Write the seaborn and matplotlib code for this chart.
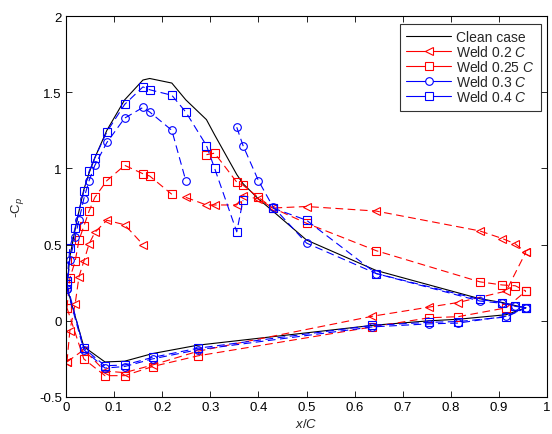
import numpy as np
import pandas as pd
import matplotlib
matplotlib.use("Agg")
import matplotlib.pyplot as plt
from matplotlib.lines import Line2D
import seaborn as sns

# ---------------- data ----------------
# upper-surface pressure ports (x/C)
x_up = [0.002, 0.008, 0.019, 0.027, 0.037, 0.048, 0.06, 0.085, 0.122, 0.16, 0.174,
        0.22, 0.249, 0.292, 0.309, 0.355, 0.368, 0.40, 0.43, 0.50, 0.645, 0.86,
        0.907, 0.934, 0.956]
# lower-surface pressure ports (x/C)
x_lo = [0.002, 0.037, 0.081, 0.122, 0.18, 0.274, 0.637, 0.755, 0.815, 0.915, 0.956]

clean_up = [0.22, 0.42, 0.60, 0.72, 0.86, 0.97, 1.07, 1.25, 1.45, 1.58, 1.59,
            1.56, 1.45, 1.32, 1.22, 0.96, 0.90, 0.80, 0.72, 0.53, 0.33, 0.145,
            0.12, 0.10, 0.085]
clean_lo = [0.22, -0.17, -0.27, -0.265, -0.215, -0.16, -0.03, 0.0, 0.01, 0.04, 0.085]

w20_up = [-0.27, -0.065, 0.11, 0.29, 0.39, 0.505, 0.58, 0.66, 0.63, 0.50, np.nan,
          np.nan, 0.81, 0.76, 0.76, 0.76, 0.82, 0.80, 0.74, 0.75, 0.72, 0.59,
          0.54, 0.505, 0.45]
w20_lo = [-0.27, -0.19, -0.33, -0.34, -0.29, -0.20, 0.03, 0.09, 0.12, 0.195, 0.45]

w25_up = [0.085, 0.28, 0.39, 0.53, 0.62, 0.72, 0.81, 0.92, 1.02, 0.965, 0.95,
          0.83, np.nan, 1.09, 1.10, 0.91, 0.89, 0.81, 0.74, 0.64, 0.46, 0.256,
          0.235, 0.23, 0.195]
w25_lo = [0.085, -0.25, -0.36, -0.36, -0.30, -0.23, -0.04, 0.02, 0.027, 0.085, 0.195]

w30_up = [0.21, 0.40, 0.55, 0.66, 0.80, 0.92, 1.02, 1.17, 1.33, 1.40, 1.37,
          1.25, 0.92, np.nan, np.nan, 1.27, 1.15, 0.92, 0.75, 0.51, 0.31, 0.13,
          0.115, 0.095, 0.085]
w30_lo = [0.21, -0.19, -0.31, -0.30, -0.25, -0.19, -0.04, -0.02, -0.015, 0.03, 0.085]

w40_up = [0.26, 0.48, 0.61, 0.72, 0.85, 0.98, 1.07, 1.24, 1.42, 1.535, 1.516,
          1.48, 1.37, 1.15, 1.00, 0.584, 0.79, np.nan, 0.74, 0.66, 0.31, 0.14,
          0.12, 0.10, 0.085]
w40_lo = [0.24, -0.18, -0.295, -0.29, -0.24, -0.18, -0.03, -0.01, -0.005, 0.025, 0.085]

labels = ["Clean case", "Weld 0.2 $\\it{C}$", "Weld 0.25 $\\it{C}$",
          "Weld 0.3 $\\it{C}$", "Weld 0.4 $\\it{C}$"]
x_ticks = [0, 0.1, 0.2, 0.3, 0.4, 0.5, 0.6, 0.7, 0.8, 0.9, 1]
x_ticklabels = ["0", "0.1", "0.2", "0.3", "0.4", "0.5", "0.6", "0.7", "0.8", "0.9", "1"]
y_ticks = [-0.5, 0, 0.5, 1, 1.5, 2]
y_ticklabels = ["-0.5", "0", "0.5", "1", "1.5", "2"]

# ---------------- style ----------------
sns.set_style("ticks")
plt.rcParams["font.family"] = ["Liberation Sans", "DejaVu Sans"]
plt.rcParams["mathtext.fontset"] = "custom"
plt.rcParams["mathtext.rm"] = "Liberation Sans"
plt.rcParams["mathtext.it"] = "Liberation Sans:italic"

fig = plt.figure(figsize=(5.52, 4.35), dpi=100)
ax = fig.add_axes([66 / 552, 1 - 398 / 435, 481 / 552, 381 / 435])


def segments(xs, ys):
    """split a series at NaN gaps -> dataframe with seg id"""
    rows, seg = [], 0
    for i, (a, b) in enumerate(zip(xs, ys)):
        if b is None or (isinstance(b, float) and np.isnan(b)):
            seg += 1
            continue
        rows.append((a, b, seg, i))
    return pd.DataFrame(rows, columns=["x", "y", "seg", "order"])


series = [
    (clean_up, clean_lo, "black", None),
    (w20_up, w20_lo, "#ff0000", "<"),
    (w25_up, w25_lo, "#ff0000", "s"),
    (w30_up, w30_lo, "#0000ff", "o"),
    (w40_up, w40_lo, "#0000ff", "s"),
]

dash = (0, (7, 4))
for up, lo, col, mk in series:
    kw = dict(color=col, lw=0.8)
    if mk is not None:
        kw.update(marker=mk, markersize=5.5 if mk != "s" else 6,
                  markerfacecolor="none", markeredgecolor=col, markeredgewidth=0.8)
    up_df = segments(x_up, up)
    lo_df = segments(x_lo, lo)
    ls = "-" if mk is None else dash
    sns.lineplot(data=up_df, x="x", y="y", units="seg", estimator=None, sort=False,
                 ax=ax, linestyle=ls, legend=False, **kw)
    sns.lineplot(data=lo_df, x="x", y="y", units="seg", estimator=None, sort=False,
                 ax=ax, linestyle=ls, legend=False, **kw)

ax.set_xlim(0, 1)
ax.set_ylim(-0.5, 2)
ax.set_xticks(x_ticks)
ax.set_xticklabels(x_ticklabels)
ax.set_yticks(y_ticks)
ax.set_yticklabels(y_ticklabels)
ax.tick_params(direction="in", length=4, width=0.6, top=True, right=True,
               labelsize=9.5, pad=3, colors="black")
for s in ax.spines.values():
    s.set_linewidth(0.8)
    s.set_color("black")
    s.set_visible(True)

ax.set_xlabel("$\\it{x/C}$", fontsize=9.5, labelpad=3)
ax.set_ylabel("-C$_{\\it{p}}$", fontsize=9.5, labelpad=9)

handles = []
for (up, lo, col, mk), lab in zip(series, labels):
    if mk is None:
        h = Line2D([], [], color=col, lw=0.8)
    else:
        h = Line2D([], [], color=col, lw=0.8, marker=mk,
                   markersize=5.5 if mk != "s" else 6,
                   markerfacecolor="white", markeredgecolor=col, markeredgewidth=0.8)
    handles.append(h)
leg = ax.legend(handles, labels, loc="upper right",
                bbox_to_anchor=((541 - 66) / 481, (398 - 25) / 381),
                borderaxespad=0, fontsize=10, frameon=True, fancybox=False,
                handlelength=3.2, handletextpad=0.4, labelspacing=0.0,
                borderpad=0.45)
leg.get_frame().set_edgecolor("black")
leg.get_frame().set_linewidth(0.8)

fig.savefig("out.png", dpi=100)
